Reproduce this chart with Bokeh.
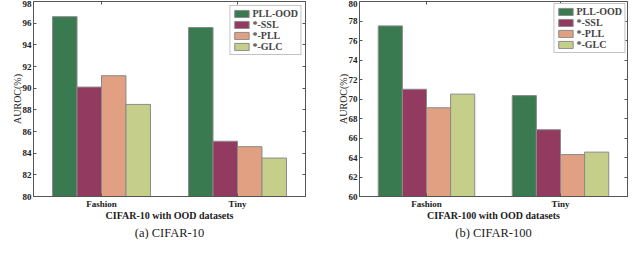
from bokeh.plotting import figure
from bokeh.models import (FactorRange, Range1d, LinearAxis, CategoricalAxis, Legend,
                          LegendItem, Title, ColumnDataSource, FixedTicker, Spacer)
from bokeh.transform import dodge
from bokeh.layouts import row
from bokeh.embed import file_html
from bokeh.resources import INLINE

datasets = ["Fashion", "Tiny"]
methods = ["PLL-OOD", "*-SSL", "*-PLL", "*-GLC"]
colors = ["#3a7a50", "#923a5f", "#e0a081", "#c6cf8a"]

c10_pll_ood = [96.6, 95.6]
c10_ssl = [90.1, 85.1]
c10_pll = [91.15, 84.6]
c10_glc = [88.5, 83.55]

c100_pll_ood = [77.5, 70.35]
c100_ssl = [71.0, 66.85]
c100_pll = [69.1, 64.3]
c100_glc = [70.5, 64.55]

c10_ticks = [80, 82, 84, 86, 88, 90, 92, 94, 96, 98]
c100_ticks = [60, 62, 64, 66, 68, 70, 72, 74, 76, 78, 80]

SERIF = "Liberation Serif"


def make_panel(series, yr, ticks, xlabel, caption, width, left_border, right_border, lmargin):
    src = ColumnDataSource(dict(x=datasets, a=series[0], b=series[1], c=series[2], d=series[3]))
    p = figure(x_range=FactorRange(*datasets), y_range=Range1d(*yr), width=width, height=239,
               output_backend="svg", toolbar_location=None,
               min_border_left=left_border, min_border_right=right_border,
               min_border_top=1, min_border_bottom=0)
    offsets = [-0.27, -0.09, 0.09, 0.27]
    keys = ["a", "b", "c", "d"]
    rs = []
    for k, off, col in zip(keys, offsets, colors):
        r = p.vbar(x=dodge("x", off, range=p.x_range), top=k, bottom=yr[0], width=0.18,
                   source=src, fill_color=col, line_color="#8a8a8a", line_width=1)
        rs.append(r)
    p.xgrid.visible = False
    p.ygrid.visible = False
    p.outline_line_color = "#555555"
    p.outline_line_width = 1

    for ax in [p.xaxis[0], p.yaxis[0]]:
        ax.major_label_text_font = SERIF
        ax.major_label_text_font_style = "bold"
        ax.major_label_text_font_size = "9px"
        ax.major_label_text_color = "#222222"
        ax.major_tick_in = 3
        ax.major_tick_out = 0
        ax.minor_tick_line_color = None
        ax.axis_line_color = "#555555"
        ax.major_tick_line_color = "#555555"
        ax.axis_label_text_font = SERIF
        ax.axis_label_text_color = "#222222"
    p.yaxis[0].ticker = FixedTicker(ticks=ticks)
    p.yaxis[0].axis_label = "AUROC(%)"
    p.yaxis[0].axis_label_text_font_size = "10px"
    p.yaxis[0].axis_label_text_font_style = "normal"
    p.yaxis[0].axis_label_standoff = -3
    p.yaxis[0].major_label_standoff = 2
    p.xaxis[0].axis_label = xlabel
    p.xaxis[0].axis_label_text_font_size = "10px"
    p.xaxis[0].axis_label_text_font_style = "bold"
    p.xaxis[0].axis_label_standoff = -2
    p.xaxis[0].major_label_standoff = 2

    top = CategoricalAxis(major_label_text_color=None, major_label_text_font_size="1px",
                          major_label_standoff=0,
                          major_tick_in=3, major_tick_out=0, axis_line_color=None,
                          major_tick_line_color="#555555", minor_tick_line_color=None)
    p.add_layout(top, "above")
    right = LinearAxis(ticker=FixedTicker(ticks=ticks), major_label_text_color=None,
                       major_label_text_font_size="1px",
                       major_label_standoff=0, major_tick_in=3, major_tick_out=0,
                       axis_line_color=None, major_tick_line_color="#555555",
                       minor_tick_line_color=None)
    p.add_layout(right, "right")

    legend = Legend(items=[LegendItem(label=m, renderers=[r]) for m, r in zip(methods, rs)],
                    location="top_right", glyph_width=18, glyph_height=9, label_height=9,
                    spacing=0, padding=2, margin=lmargin, label_standoff=2,
                    label_text_font=SERIF, label_text_font_style="bold",
                    label_text_font_size="10px", border_line_color="#888888",
                    background_fill_color="white", background_fill_alpha=1)
    p.add_layout(legend)

    t = Title(text=caption, align="center", text_font=SERIF, text_font_size="12.5px",
              text_font_style="normal", text_color="#222222", standoff=0, offset=0)
    p.add_layout(t, "below")
    return p


p1 = make_panel([c10_pll_ood, c10_ssl, c10_pll, c10_glc], (80, 98), c10_ticks,
                "CIFAR-10 with OOD datasets", "(a) CIFAR-10", 326, 10, 29, 4)
p2 = make_panel([c100_pll_ood, c100_ssl, c100_pll, c100_glc], (60, 80), c100_ticks,
                "CIFAR-100 with OOD datasets", "(b) CIFAR-100", 294, 10, 1, 2)

layout = row(Spacer(width=8, height=10), p1, p2)
open("out.html", "w").write(file_html(layout, INLINE))
